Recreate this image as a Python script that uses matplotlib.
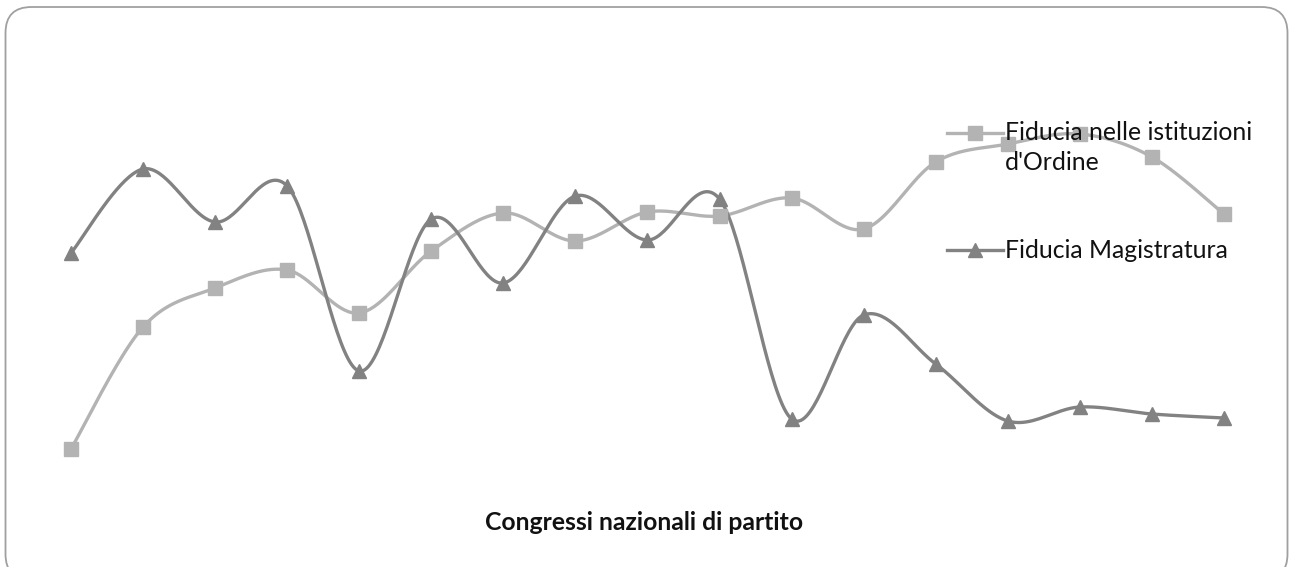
import matplotlib.pyplot as plt
import numpy as np
from matplotlib.patches import FancyBboxPatch
from matplotlib.lines import Line2D

# 17 congressi, valori (scala arbitraria, asse y nascosto)
congressi = list(range(1, 18))
fiducia_ordine = [10.2, 34.6, 42.4, 46.0, 37.4, 49.8, 57.4, 51.8, 57.6, 56.8,
                  60.4, 54.2, 67.6, 71.2, 73.2, 68.6, 57.2]
fiducia_magistratura = [49.4, 66.2, 55.6, 62.8, 25.8, 56.2, 43.4, 60.8, 52.0, 60.2,
                        16.2, 37.0, 27.2, 15.8, 18.6, 17.2, 16.4]

label_ordine = "Fiducia nelle istituzioni\nd'Ordine"
label_magistratura = "Fiducia Magistratura"
titolo_x = "Congressi nazionali di partito"

plt.rcParams['font.family'] = ['Lato', 'DejaVu Sans']


def smooth(x, y, n=40):
    # curva tipo "linea smussata" di Excel (Catmull-Rom -> Bezier)
    x = np.asarray(x, float)
    y = np.asarray(y, float)
    px = np.concatenate([[x[0]], x, [x[-1]]])
    py = np.concatenate([[y[0]], y, [y[-1]]])
    xs, ys = [], []
    t = np.linspace(0, 1, n)
    for i in range(1, len(px) - 2):
        p0 = np.array([px[i], py[i]])
        p3 = np.array([px[i + 1], py[i + 1]])
        c1 = p0 + (np.array([px[i + 1], py[i + 1]]) - np.array([px[i - 1], py[i - 1]])) / 6
        c2 = p3 - (np.array([px[i + 2], py[i + 2]]) - np.array([px[i], py[i]])) / 6
        b = ((1 - t) ** 3)[:, None] * p0 + (3 * (1 - t) ** 2 * t)[:, None] * c1 \
            + (3 * (1 - t) * t ** 2)[:, None] * c2 + (t ** 3)[:, None] * p3
        xs.append(b[:, 0])
        ys.append(b[:, 1])
    return np.concatenate(xs), np.concatenate(ys)


W, H = 1292, 567
fig = plt.figure(figsize=(W / 100, H / 100), dpi=100)
ax = fig.add_axes([0, 0, 1, 1])

c_light = '#b3b3b3'
c_dark = '#828282'
lw = 2.4

sx, sy = smooth(congressi, fiducia_ordine)
ax.plot(sx, sy, color=c_light, lw=lw, solid_capstyle='round', zorder=2)
ax.plot(congressi, fiducia_ordine, ls='none', marker='s', ms=10, color=c_light, zorder=3)

sx, sy = smooth(congressi, fiducia_magistratura)
ax.plot(sx, sy, color=c_dark, lw=lw, solid_capstyle='round', zorder=2)
ax.plot(congressi, fiducia_magistratura, ls='none', marker='^', ms=10, color=c_dark, zorder=3)

ax.set_xlim(-0.985 + 1, 16.944 + 1)
ax.set_ylim(-13.4, 100)
ax.axis('off')


# legenda (disegnata a mano per allineare il simbolo alla prima riga)
def fy(py):
    return 1 - py / H


def legend_entry(y_px, color, marker, text):
    fig.add_artist(Line2D([947 / W, 1003 / W], [fy(y_px)] * 2, color=color, lw=lw))
    fig.add_artist(Line2D([975 / W], [fy(y_px)], color=color, marker=marker, ms=10, ls='none'))
    for k, riga in enumerate(text.split('\n')):
        fig.text(1005 / W, fy(y_px + 29 * k), riga, ha='left', va='center',
                 fontsize=17.8, color='#111111')


legend_entry(133, c_light, 's', label_ordine)
legend_entry(250, c_dark, '^', label_magistratura)

fig.text(644 / W, fy(522), titolo_x, ha='center', va='center', fontsize=17.8,
         fontweight='bold', color='#111111')

# cornice arrotondata (il bordo inferiore esce dall'immagine)
box = FancyBboxPatch((5.5, -13), 1282, 573, boxstyle='round,pad=0,rounding_size=26',
                     transform=None, fill=False, edgecolor='#a0a0a0', lw=1.3,
                     zorder=5)
fig.patches.append(box)

fig.savefig('out.png', dpi=100)
